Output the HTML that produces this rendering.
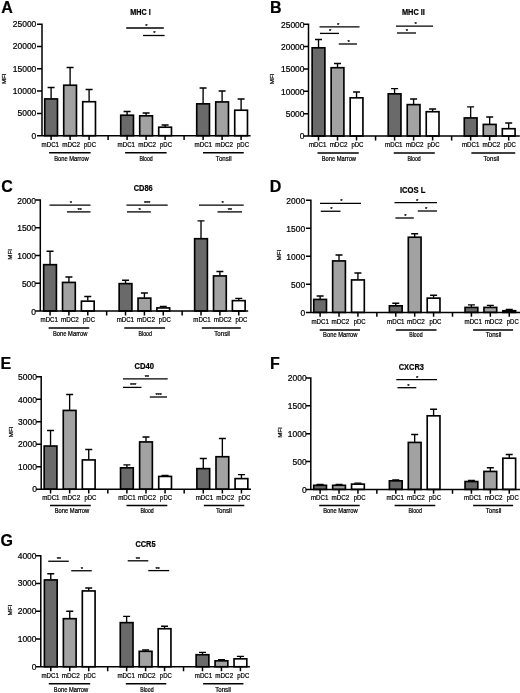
<!DOCTYPE html>
<html><head><meta charset="utf-8"><title>Figure</title>
<style>
html,body{margin:0;padding:0;background:#fff;}
body{width:520px;height:693px;overflow:hidden;}
svg{display:block;} text{stroke:#000;stroke-width:0.22px;} svg{filter:blur(0.35px);font-family:"Liberation Sans",sans-serif;fill:#000;}
</style></head><body>
<svg width="520" height="693" viewBox="0 0 520 693">
<rect x="0" y="0" width="520" height="693" fill="#fff"/>
<text x="1.2" y="13.1" font-size="16" font-weight="700">A</text>
<text x="130.25" y="14.76" font-size="8.5" font-weight="700" textLength="20.5" lengthAdjust="spacingAndGlyphs">MHC I</text>
<text transform="translate(5.7,78.77) rotate(-90)" font-size="6.1" text-anchor="middle" textLength="10.7" lengthAdjust="spacingAndGlyphs">MFI</text>
<path d="M51.1 98.6V87.5M47.6 87.5H54.6" stroke="#000" stroke-width="1.35" fill="none"/>
<rect x="44.73" y="98.92" width="12.75" height="36.77" fill="#6a6a6a" stroke="#000" stroke-width="1.65"/>
<path d="M70.1 84.9V67.5M66.6 67.5H73.6" stroke="#000" stroke-width="1.35" fill="none"/>
<rect x="63.72" y="85.22" width="12.75" height="50.47" fill="#a2a2a2" stroke="#000" stroke-width="1.65"/>
<path d="M89.1 101.4V89.5M85.6 89.5H92.6" stroke="#000" stroke-width="1.35" fill="none"/>
<rect x="82.72" y="101.72" width="12.75" height="33.97" fill="#ffffff" stroke="#000" stroke-width="1.65"/>
<path d="M127.1 114.9V111.5M123.6 111.5H130.6" stroke="#000" stroke-width="1.35" fill="none"/>
<rect x="120.72" y="115.22" width="12.75" height="20.47" fill="#6a6a6a" stroke="#000" stroke-width="1.65"/>
<path d="M146.1 115.5V113M142.6 113H149.6" stroke="#000" stroke-width="1.35" fill="none"/>
<rect x="139.72" y="115.83" width="12.75" height="19.87" fill="#a2a2a2" stroke="#000" stroke-width="1.65"/>
<path d="M165.1 126.9V125M161.6 125H168.6" stroke="#000" stroke-width="1.35" fill="none"/>
<rect x="158.72" y="127.22" width="12.75" height="8.47" fill="#ffffff" stroke="#000" stroke-width="1.65"/>
<path d="M203.1 103.5V88M199.6 88H206.6" stroke="#000" stroke-width="1.35" fill="none"/>
<rect x="196.72" y="103.83" width="12.75" height="31.87" fill="#6a6a6a" stroke="#000" stroke-width="1.65"/>
<path d="M222.1 101.6V91M218.6 91H225.6" stroke="#000" stroke-width="1.35" fill="none"/>
<rect x="215.72" y="101.92" width="12.75" height="33.77" fill="#a2a2a2" stroke="#000" stroke-width="1.65"/>
<path d="M241.1 109.9V99M237.6 99H244.6" stroke="#000" stroke-width="1.35" fill="none"/>
<rect x="234.72" y="110.22" width="12.75" height="25.47" fill="#ffffff" stroke="#000" stroke-width="1.65"/>
<path d="M42 23.5V135.7M41.25 135.7H250.6M37 135.7H42M37 113.41H42M37 91.12H42M37 68.83H42M37 46.54H42M37 24.25H42M51.1 135.7V140.1M70.1 135.7V140.1M89.1 135.7V140.1M108.1 135.7V140.1M127.1 135.7V140.1M146.1 135.7V140.1M165.1 135.7V140.1M184.1 135.7V140.1M203.1 135.7V140.1M222.1 135.7V140.1M241.1 135.7V140.1" stroke="#000" stroke-width="1.5" fill="none"/>
<text x="36.3" y="138.65" font-size="8.45" text-anchor="end">0</text>
<text x="36.3" y="116.36" font-size="8.45" text-anchor="end">5000</text>
<text x="36.3" y="94.07" font-size="8.45" text-anchor="end">10000</text>
<text x="36.3" y="71.78" font-size="8.45" text-anchor="end">15000</text>
<text x="36.3" y="49.49" font-size="8.45" text-anchor="end">20000</text>
<text x="36.3" y="27.2" font-size="8.45" text-anchor="end">25000</text>
<text x="41.6" y="147.1" font-size="6.7" textLength="17.4" lengthAdjust="spacingAndGlyphs">mDC1</text>
<text x="62.2" y="147.1" font-size="6.7" textLength="17.8" lengthAdjust="spacingAndGlyphs">mDC2</text>
<text x="84" y="147.1" font-size="6.7" textLength="12.0" lengthAdjust="spacingAndGlyphs">pDC</text>
<text x="117.6" y="147.1" font-size="6.7" textLength="17.4" lengthAdjust="spacingAndGlyphs">mDC1</text>
<text x="138.2" y="147.1" font-size="6.7" textLength="17.8" lengthAdjust="spacingAndGlyphs">mDC2</text>
<text x="160" y="147.1" font-size="6.7" textLength="12.0" lengthAdjust="spacingAndGlyphs">pDC</text>
<text x="194.6" y="147.1" font-size="6.7" textLength="17.4" lengthAdjust="spacingAndGlyphs">mDC1</text>
<text x="215.2" y="147.1" font-size="6.7" textLength="17.8" lengthAdjust="spacingAndGlyphs">mDC2</text>
<text x="237" y="147.1" font-size="6.7" textLength="12.0" lengthAdjust="spacingAndGlyphs">pDC</text>
<path d="M49.1 152.8H90.6" stroke="#000" stroke-width="1.5"/>
<text x="54.2" y="160.6" font-size="6.6" textLength="34.4" lengthAdjust="spacingAndGlyphs">Bone Marrow</text>
<path d="M125.1 152.8H166.6" stroke="#000" stroke-width="1.5"/>
<text x="139.4" y="160.6" font-size="6.6" textLength="13.4" lengthAdjust="spacingAndGlyphs">Blood</text>
<path d="M203 152.8H243.75" stroke="#000" stroke-width="1.5"/>
<text x="215.85" y="160.6" font-size="6.6" textLength="15.7" lengthAdjust="spacingAndGlyphs">Tonsil</text>
<path d="M126.2 28H163.8" stroke="#000" stroke-width="1.3"/>
<text x="146.3" y="27.9" font-size="6" text-anchor="middle" letter-spacing="-0.3">*</text>
<path d="M143 35.5H164.6" stroke="#000" stroke-width="1.3"/>
<text x="154.3" y="35.4" font-size="6" text-anchor="middle" letter-spacing="-0.3">*</text>
<text x="269.9" y="13.1" font-size="16" font-weight="700">B</text>
<text x="401.9" y="15.26" font-size="8.5" font-weight="700" textLength="23.0" lengthAdjust="spacingAndGlyphs">MHC II</text>
<text transform="translate(274.4,78.92) rotate(-90)" font-size="6.1" text-anchor="middle" textLength="10.7" lengthAdjust="spacingAndGlyphs">MFI</text>
<path d="M318.51 47.5V39.5M315.01 39.5H322.01" stroke="#000" stroke-width="1.35" fill="none"/>
<rect x="312.13" y="47.83" width="12.75" height="88.17" fill="#6a6a6a" stroke="#000" stroke-width="1.65"/>
<path d="M337.53 67.4V63.5M334.03 63.5H341.03" stroke="#000" stroke-width="1.35" fill="none"/>
<rect x="331.15" y="67.72" width="12.75" height="68.28" fill="#a2a2a2" stroke="#000" stroke-width="1.65"/>
<path d="M356.55 97.5V92M353.05 92H360.05" stroke="#000" stroke-width="1.35" fill="none"/>
<rect x="350.17" y="97.83" width="12.75" height="38.17" fill="#ffffff" stroke="#000" stroke-width="1.65"/>
<path d="M394.58 93.5V88.6M391.08 88.6H398.08" stroke="#000" stroke-width="1.35" fill="none"/>
<rect x="388.21" y="93.83" width="12.75" height="42.17" fill="#6a6a6a" stroke="#000" stroke-width="1.65"/>
<path d="M413.6 104.3V99M410.1 99H417.1" stroke="#000" stroke-width="1.35" fill="none"/>
<rect x="407.23" y="104.62" width="12.75" height="31.38" fill="#a2a2a2" stroke="#000" stroke-width="1.65"/>
<path d="M432.62 111.4V109M429.12 109H436.12" stroke="#000" stroke-width="1.35" fill="none"/>
<rect x="426.24" y="111.72" width="12.75" height="24.28" fill="#ffffff" stroke="#000" stroke-width="1.65"/>
<path d="M470.65 117.6V106.8M467.15 106.8H474.15" stroke="#000" stroke-width="1.35" fill="none"/>
<rect x="464.28" y="117.92" width="12.75" height="18.08" fill="#6a6a6a" stroke="#000" stroke-width="1.65"/>
<path d="M489.67 124.1V117M486.17 117H493.17" stroke="#000" stroke-width="1.35" fill="none"/>
<rect x="483.3" y="124.42" width="12.75" height="11.58" fill="#a2a2a2" stroke="#000" stroke-width="1.65"/>
<path d="M508.69 128.4V123M505.19 123H512.19" stroke="#000" stroke-width="1.35" fill="none"/>
<rect x="502.32" y="128.72" width="12.75" height="7.27" fill="#ffffff" stroke="#000" stroke-width="1.65"/>
<path d="M308.5 23.5V136M307.75 136H519.8M303.5 136H308.5M303.5 113.65H308.5M303.5 91.3H308.5M303.5 68.95H308.5M303.5 46.6H308.5M303.5 24.25H308.5M318.51 136V140.4M337.53 136V140.4M356.55 136V140.4M375.56 136V140.4M394.58 136V140.4M413.6 136V140.4M432.62 136V140.4M451.64 136V140.4M470.65 136V140.4M489.67 136V140.4M508.69 136V140.4" stroke="#000" stroke-width="1.5" fill="none"/>
<text x="304.5" y="139.25" font-size="8.45" text-anchor="end">0</text>
<text x="304.5" y="116.9" font-size="8.45" text-anchor="end">5000</text>
<text x="304.5" y="94.55" font-size="8.45" text-anchor="end">10000</text>
<text x="304.5" y="72.2" font-size="8.45" text-anchor="end">15000</text>
<text x="304.5" y="49.85" font-size="8.45" text-anchor="end">20000</text>
<text x="304.5" y="27.5" font-size="8.45" text-anchor="end">25000</text>
<text x="309.01" y="147.4" font-size="6.7" textLength="17.4" lengthAdjust="spacingAndGlyphs">mDC1</text>
<text x="329.63" y="147.4" font-size="6.7" textLength="17.8" lengthAdjust="spacingAndGlyphs">mDC2</text>
<text x="351.45" y="147.4" font-size="6.7" textLength="12.0" lengthAdjust="spacingAndGlyphs">pDC</text>
<text x="385.08" y="147.4" font-size="6.7" textLength="17.4" lengthAdjust="spacingAndGlyphs">mDC1</text>
<text x="405.7" y="147.4" font-size="6.7" textLength="17.8" lengthAdjust="spacingAndGlyphs">mDC2</text>
<text x="427.52" y="147.4" font-size="6.7" textLength="12.0" lengthAdjust="spacingAndGlyphs">pDC</text>
<text x="461.95" y="147.4" font-size="6.7" textLength="17.4" lengthAdjust="spacingAndGlyphs">mDC1</text>
<text x="482.57" y="147.4" font-size="6.7" textLength="17.8" lengthAdjust="spacingAndGlyphs">mDC2</text>
<text x="503.89" y="147.4" font-size="6.7" textLength="12.0" lengthAdjust="spacingAndGlyphs">pDC</text>
<path d="M317.5 153.1H358.75" stroke="#000" stroke-width="1.5"/>
<text x="321.63" y="160.9" font-size="6.6" textLength="34.4" lengthAdjust="spacingAndGlyphs">Bone Marrow</text>
<path d="M393.75 153.1H434.8" stroke="#000" stroke-width="1.5"/>
<text x="407.4" y="160.9" font-size="6.6" textLength="13.4" lengthAdjust="spacingAndGlyphs">Blood</text>
<path d="M471.4 153.1H515.2" stroke="#000" stroke-width="1.5"/>
<text x="483.52" y="160.9" font-size="6.6" textLength="15.7" lengthAdjust="spacingAndGlyphs">Tonsil</text>
<path d="M319.5 26.8H359.5" stroke="#000" stroke-width="1.3"/>
<text x="338" y="26.7" font-size="6" text-anchor="middle" letter-spacing="-0.3">*</text>
<path d="M320 33.4H339" stroke="#000" stroke-width="1.3"/>
<text x="330" y="33.3" font-size="6" text-anchor="middle" letter-spacing="-0.3">*</text>
<path d="M338.75 44H357" stroke="#000" stroke-width="1.3"/>
<text x="348.5" y="43.9" font-size="6" text-anchor="middle" letter-spacing="-0.3">*</text>
<path d="M396 26.2H433" stroke="#000" stroke-width="1.3"/>
<text x="415.4" y="26.1" font-size="6" text-anchor="middle" letter-spacing="-0.3">*</text>
<path d="M397 33H416" stroke="#000" stroke-width="1.3"/>
<text x="406.8" y="32.9" font-size="6" text-anchor="middle" letter-spacing="-0.3">*</text>
<text x="1.2" y="192" font-size="16" font-weight="700">C</text>
<text x="133.7" y="190.76" font-size="8.5" font-weight="700" textLength="19.0" lengthAdjust="spacingAndGlyphs">CD86</text>
<text transform="translate(11.9,254.3) rotate(-90)" font-size="6.1" text-anchor="middle" textLength="10.7" lengthAdjust="spacingAndGlyphs">MFI</text>
<path d="M50.04 264.35V251.25M46.54 251.25H53.54" stroke="#000" stroke-width="1.35" fill="none"/>
<rect x="43.66" y="264.68" width="12.75" height="46.32" fill="#6a6a6a" stroke="#000" stroke-width="1.65"/>
<path d="M68.91 282.1V277M65.41 277H72.41" stroke="#000" stroke-width="1.35" fill="none"/>
<rect x="62.53" y="282.43" width="12.75" height="28.57" fill="#a2a2a2" stroke="#000" stroke-width="1.65"/>
<path d="M87.78 300.85V296.5M84.28 296.5H91.28" stroke="#000" stroke-width="1.35" fill="none"/>
<rect x="81.41" y="301.18" width="12.75" height="9.82" fill="#ffffff" stroke="#000" stroke-width="1.65"/>
<path d="M125.53 283.3V280.2M122.03 280.2H129.03" stroke="#000" stroke-width="1.35" fill="none"/>
<rect x="119.15" y="283.62" width="12.75" height="27.37" fill="#6a6a6a" stroke="#000" stroke-width="1.65"/>
<path d="M144.4 297.8V293M140.9 293H147.9" stroke="#000" stroke-width="1.35" fill="none"/>
<rect x="138.03" y="298.12" width="12.75" height="12.87" fill="#a2a2a2" stroke="#000" stroke-width="1.65"/>
<path d="M163.27 307.6V306.3M159.77 306.3H166.77" stroke="#000" stroke-width="1.35" fill="none"/>
<rect x="156.9" y="307.93" width="12.75" height="3.07" fill="#ffffff" stroke="#000" stroke-width="1.65"/>
<path d="M201.02 238.4V220.8M197.52 220.8H204.52" stroke="#000" stroke-width="1.35" fill="none"/>
<rect x="194.64" y="238.72" width="12.75" height="72.27" fill="#6a6a6a" stroke="#000" stroke-width="1.65"/>
<path d="M219.89 275.6V271.5M216.39 271.5H223.39" stroke="#000" stroke-width="1.35" fill="none"/>
<rect x="213.52" y="275.93" width="12.75" height="35.07" fill="#a2a2a2" stroke="#000" stroke-width="1.65"/>
<path d="M238.76 300.3V298.3M235.26 298.3H242.26" stroke="#000" stroke-width="1.35" fill="none"/>
<rect x="232.39" y="300.62" width="12.75" height="10.37" fill="#ffffff" stroke="#000" stroke-width="1.65"/>
<path d="M40.3 199.25V311M39.55 311H248.2M35.3 311H40.3M35.3 283.25H40.3M35.3 255.5H40.3M35.3 227.75H40.3M35.3 200H40.3M50.04 311V315.4M68.91 311V315.4M87.78 311V315.4M106.65 311V315.4M125.53 311V315.4M144.4 311V315.4M163.27 311V315.4M182.15 311V315.4M201.02 311V315.4M219.89 311V315.4M238.76 311V315.4" stroke="#000" stroke-width="1.5" fill="none"/>
<text x="36" y="314.55" font-size="8.45" text-anchor="end">0</text>
<text x="36" y="286.8" font-size="8.45" text-anchor="end">500</text>
<text x="36" y="259.05" font-size="8.45" text-anchor="end">1000</text>
<text x="36" y="231.3" font-size="8.45" text-anchor="end">1500</text>
<text x="36" y="203.55" font-size="8.45" text-anchor="end">2000</text>
<text x="40.54" y="322.4" font-size="6.7" textLength="17.4" lengthAdjust="spacingAndGlyphs">mDC1</text>
<text x="61.01" y="322.4" font-size="6.7" textLength="17.8" lengthAdjust="spacingAndGlyphs">mDC2</text>
<text x="82.98" y="322.4" font-size="6.7" textLength="12.0" lengthAdjust="spacingAndGlyphs">pDC</text>
<text x="116.63" y="322.4" font-size="6.7" textLength="17.4" lengthAdjust="spacingAndGlyphs">mDC1</text>
<text x="137.1" y="322.4" font-size="6.7" textLength="17.8" lengthAdjust="spacingAndGlyphs">mDC2</text>
<text x="158.87" y="322.4" font-size="6.7" textLength="12.0" lengthAdjust="spacingAndGlyphs">pDC</text>
<text x="193.32" y="322.4" font-size="6.7" textLength="17.4" lengthAdjust="spacingAndGlyphs">mDC1</text>
<text x="213.79" y="322.4" font-size="6.7" textLength="17.8" lengthAdjust="spacingAndGlyphs">mDC2</text>
<text x="235.46" y="322.4" font-size="6.7" textLength="12.0" lengthAdjust="spacingAndGlyphs">pDC</text>
<path d="M48.6 328.1H89.25" stroke="#000" stroke-width="1.5"/>
<text x="53.01" y="335.9" font-size="6.6" textLength="34.4" lengthAdjust="spacingAndGlyphs">Bone Marrow</text>
<path d="M124.25 328.1H165.1" stroke="#000" stroke-width="1.5"/>
<text x="138.55" y="335.9" font-size="6.6" textLength="13.4" lengthAdjust="spacingAndGlyphs">Blood</text>
<path d="M201.8 328.1H240.8" stroke="#000" stroke-width="1.5"/>
<text x="214.24" y="335.9" font-size="6.6" textLength="15.7" lengthAdjust="spacingAndGlyphs">Tonsil</text>
<path d="M49.5 205.1H90.5" stroke="#000" stroke-width="1.3"/>
<text x="70.75" y="205" font-size="6" text-anchor="middle" letter-spacing="-0.3">*</text>
<path d="M67 211.9H90.5" stroke="#000" stroke-width="1.3"/>
<text x="79.5" y="211.8" font-size="6" text-anchor="middle" letter-spacing="-0.3">**</text>
<path d="M126.5 205.1H167.7" stroke="#000" stroke-width="1.3"/>
<text x="147" y="205" font-size="6" text-anchor="middle" letter-spacing="-0.3">***</text>
<path d="M127 211.9H150.8" stroke="#000" stroke-width="1.3"/>
<text x="139.4" y="211.8" font-size="6" text-anchor="middle" letter-spacing="-0.3">*</text>
<path d="M199 205.1H243.7" stroke="#000" stroke-width="1.3"/>
<text x="222.5" y="205" font-size="6" text-anchor="middle" letter-spacing="-0.3">*</text>
<path d="M217.5 211.9H242" stroke="#000" stroke-width="1.3"/>
<text x="229.8" y="211.8" font-size="6" text-anchor="middle" letter-spacing="-0.3">**</text>
<text x="269.7" y="191.75" font-size="16" font-weight="700">D</text>
<text x="400" y="192.56" font-size="8.5" font-weight="700" textLength="25.4" lengthAdjust="spacingAndGlyphs">ICOS L</text>
<text transform="translate(281.4,255.12) rotate(-90)" font-size="6.1" text-anchor="middle" textLength="10.7" lengthAdjust="spacingAndGlyphs">MFI</text>
<path d="M320.11 299.1V296M316.61 296H323.61" stroke="#000" stroke-width="1.35" fill="none"/>
<rect x="313.73" y="299.43" width="12.75" height="12.97" fill="#6a6a6a" stroke="#000" stroke-width="1.65"/>
<path d="M339.02 260.6V255M335.52 255H342.52" stroke="#000" stroke-width="1.35" fill="none"/>
<rect x="332.65" y="260.93" width="12.75" height="51.47" fill="#a2a2a2" stroke="#000" stroke-width="1.65"/>
<path d="M357.93 279.6V273M354.43 273H361.43" stroke="#000" stroke-width="1.35" fill="none"/>
<rect x="351.56" y="279.93" width="12.75" height="32.47" fill="#ffffff" stroke="#000" stroke-width="1.65"/>
<path d="M395.76 305.5V303.2M392.26 303.2H399.26" stroke="#000" stroke-width="1.35" fill="none"/>
<rect x="389.39" y="305.82" width="12.75" height="6.57" fill="#6a6a6a" stroke="#000" stroke-width="1.65"/>
<path d="M414.68 236.9V233.7M411.18 233.7H418.18" stroke="#000" stroke-width="1.35" fill="none"/>
<rect x="408.3" y="237.22" width="12.75" height="75.17" fill="#a2a2a2" stroke="#000" stroke-width="1.65"/>
<path d="M433.59 297.8V295.2M430.09 295.2H437.09" stroke="#000" stroke-width="1.35" fill="none"/>
<rect x="427.21" y="298.12" width="12.75" height="14.27" fill="#ffffff" stroke="#000" stroke-width="1.65"/>
<path d="M471.42 307.1V304.8M467.92 304.8H474.92" stroke="#000" stroke-width="1.35" fill="none"/>
<rect x="465.04" y="307.43" width="12.75" height="4.97" fill="#6a6a6a" stroke="#000" stroke-width="1.65"/>
<path d="M490.33 307.1V305.4M486.83 305.4H493.83" stroke="#000" stroke-width="1.35" fill="none"/>
<rect x="483.95" y="307.43" width="12.75" height="4.97" fill="#a2a2a2" stroke="#000" stroke-width="1.65"/>
<path d="M509.24 310.4V309.4M505.74 309.4H512.74" stroke="#000" stroke-width="1.35" fill="none"/>
<rect x="502.87" y="310.73" width="12.75" height="1.67" fill="#ffffff" stroke="#000" stroke-width="1.65"/>
<path d="M310.9 199.5V312.4M310.15 312.4H520M305.9 312.4H310.9M305.9 284.36H310.9M305.9 256.32H310.9M305.9 228.29H310.9M305.9 200.25H310.9M320.11 312.4V316.8M339.02 312.4V316.8M357.93 312.4V316.8M376.85 312.4V316.8M395.76 312.4V316.8M414.68 312.4V316.8M433.59 312.4V316.8M452.5 312.4V316.8M471.42 312.4V316.8M490.33 312.4V316.8M509.24 312.4V316.8" stroke="#000" stroke-width="1.5" fill="none"/>
<text x="305.1" y="315.65" font-size="8.45" text-anchor="end">0</text>
<text x="305.1" y="287.61" font-size="8.45" text-anchor="end">500</text>
<text x="305.1" y="259.57" font-size="8.45" text-anchor="end">1000</text>
<text x="305.1" y="231.54" font-size="8.45" text-anchor="end">1500</text>
<text x="305.1" y="203.5" font-size="8.45" text-anchor="end">2000</text>
<text x="311.41" y="324.35" font-size="6.7" textLength="17.4" lengthAdjust="spacingAndGlyphs">mDC1</text>
<text x="331.52" y="324.35" font-size="6.7" textLength="17.8" lengthAdjust="spacingAndGlyphs">mDC2</text>
<text x="353.63" y="324.35" font-size="6.7" textLength="12.0" lengthAdjust="spacingAndGlyphs">pDC</text>
<text x="387.11" y="324.35" font-size="6.7" textLength="17.4" lengthAdjust="spacingAndGlyphs">mDC1</text>
<text x="406.93" y="324.35" font-size="6.7" textLength="17.8" lengthAdjust="spacingAndGlyphs">mDC2</text>
<text x="429.39" y="324.35" font-size="6.7" textLength="12.0" lengthAdjust="spacingAndGlyphs">pDC</text>
<text x="464.52" y="324.35" font-size="6.7" textLength="17.4" lengthAdjust="spacingAndGlyphs">mDC1</text>
<text x="484.63" y="324.35" font-size="6.7" textLength="17.8" lengthAdjust="spacingAndGlyphs">mDC2</text>
<text x="506.74" y="324.35" font-size="6.7" textLength="12.0" lengthAdjust="spacingAndGlyphs">pDC</text>
<path d="M319.7 330.1H360" stroke="#000" stroke-width="1.5"/>
<text x="323.12" y="337.1" font-size="6.6" textLength="34.4" lengthAdjust="spacingAndGlyphs">Bone Marrow</text>
<path d="M395.8 330.1H436.5" stroke="#000" stroke-width="1.5"/>
<text x="409.18" y="337.1" font-size="6.6" textLength="13.4" lengthAdjust="spacingAndGlyphs">Blood</text>
<path d="M473.1 330.1H513.1" stroke="#000" stroke-width="1.5"/>
<text x="485.68" y="337.1" font-size="6.6" textLength="15.7" lengthAdjust="spacingAndGlyphs">Tonsil</text>
<path d="M320 203.4H361" stroke="#000" stroke-width="1.3"/>
<text x="341.25" y="203.3" font-size="6" text-anchor="middle" letter-spacing="-0.3">*</text>
<path d="M320.75 211.25H340.5" stroke="#000" stroke-width="1.3"/>
<text x="331.25" y="211.15" font-size="6" text-anchor="middle" letter-spacing="-0.3">*</text>
<path d="M394.5 202.6H437" stroke="#000" stroke-width="1.3"/>
<text x="417" y="202.5" font-size="6" text-anchor="middle" letter-spacing="-0.3">*</text>
<path d="M417.8 211H437" stroke="#000" stroke-width="1.3"/>
<text x="426" y="210.9" font-size="6" text-anchor="middle" letter-spacing="-0.3">*</text>
<path d="M395.4 218H413.8" stroke="#000" stroke-width="1.3"/>
<text x="405.2" y="217.9" font-size="6" text-anchor="middle" letter-spacing="-0.3">*</text>
<text x="0.4" y="368.7" font-size="16" font-weight="700">E</text>
<text x="134.4" y="369" font-size="8.9" font-weight="700" textLength="19.5" lengthAdjust="spacingAndGlyphs">CD40</text>
<text transform="translate(13,431.8) rotate(-90)" font-size="6.1" text-anchor="middle" textLength="10.7" lengthAdjust="spacingAndGlyphs">MFI</text>
<path d="M50.55 445.7V430.5M47.05 430.5H54.05" stroke="#000" stroke-width="1.35" fill="none"/>
<rect x="44.17" y="446.03" width="12.75" height="43.17" fill="#6a6a6a" stroke="#000" stroke-width="1.65"/>
<path d="M69.64 410.1V394.5M66.14 394.5H73.14" stroke="#000" stroke-width="1.35" fill="none"/>
<rect x="63.26" y="410.43" width="12.75" height="78.77" fill="#a2a2a2" stroke="#000" stroke-width="1.65"/>
<path d="M88.73 459.6V449.5M85.23 449.5H92.23" stroke="#000" stroke-width="1.35" fill="none"/>
<rect x="82.35" y="459.93" width="12.75" height="29.27" fill="#ffffff" stroke="#000" stroke-width="1.65"/>
<path d="M126.91 467.5V464.8M123.41 464.8H130.41" stroke="#000" stroke-width="1.35" fill="none"/>
<rect x="120.53" y="467.82" width="12.75" height="21.37" fill="#6a6a6a" stroke="#000" stroke-width="1.65"/>
<path d="M146 441.6V437M142.5 437H149.5" stroke="#000" stroke-width="1.35" fill="none"/>
<rect x="139.62" y="441.93" width="12.75" height="47.27" fill="#a2a2a2" stroke="#000" stroke-width="1.65"/>
<path d="M165.09 476.1V475.3M161.59 475.3H168.59" stroke="#000" stroke-width="1.35" fill="none"/>
<rect x="158.72" y="476.43" width="12.75" height="12.77" fill="#ffffff" stroke="#000" stroke-width="1.65"/>
<path d="M203.27 468.3V458.5M199.77 458.5H206.77" stroke="#000" stroke-width="1.35" fill="none"/>
<rect x="196.9" y="468.62" width="12.75" height="20.57" fill="#6a6a6a" stroke="#000" stroke-width="1.65"/>
<path d="M222.36 456.4V438.5M218.86 438.5H225.86" stroke="#000" stroke-width="1.35" fill="none"/>
<rect x="215.99" y="456.73" width="12.75" height="32.47" fill="#a2a2a2" stroke="#000" stroke-width="1.65"/>
<path d="M241.45 478.3V474.6M237.95 474.6H244.95" stroke="#000" stroke-width="1.35" fill="none"/>
<rect x="235.08" y="478.62" width="12.75" height="10.57" fill="#ffffff" stroke="#000" stroke-width="1.65"/>
<path d="M41.2 376.05V489.2M40.45 489.2H251M36.2 489.2H41.2M36.2 466.72H41.2M36.2 444.24H41.2M36.2 421.76H41.2M36.2 399.28H41.2M36.2 376.8H41.2M50.55 489.2V493.6M69.64 489.2V493.6M88.73 489.2V493.6M107.82 489.2V493.6M126.91 489.2V493.6M146 489.2V493.6M165.09 489.2V493.6M184.18 489.2V493.6M203.27 489.2V493.6M222.36 489.2V493.6M241.45 489.2V493.6" stroke="#000" stroke-width="1.5" fill="none"/>
<text x="36.9" y="492.45" font-size="8.45" text-anchor="end">0</text>
<text x="36.9" y="469.97" font-size="8.45" text-anchor="end">1000</text>
<text x="36.9" y="447.49" font-size="8.45" text-anchor="end">2000</text>
<text x="36.9" y="425.01" font-size="8.45" text-anchor="end">3000</text>
<text x="36.9" y="402.53" font-size="8.45" text-anchor="end">4000</text>
<text x="36.9" y="380.05" font-size="8.45" text-anchor="end">5000</text>
<text x="42.15" y="500.15" font-size="6.7" textLength="17.4" lengthAdjust="spacingAndGlyphs">mDC1</text>
<text x="62.34" y="500.15" font-size="6.7" textLength="17.8" lengthAdjust="spacingAndGlyphs">mDC2</text>
<text x="84.43" y="500.15" font-size="6.7" textLength="12.0" lengthAdjust="spacingAndGlyphs">pDC</text>
<text x="118.21" y="500.15" font-size="6.7" textLength="17.4" lengthAdjust="spacingAndGlyphs">mDC1</text>
<text x="138.1" y="500.15" font-size="6.7" textLength="17.8" lengthAdjust="spacingAndGlyphs">mDC2</text>
<text x="160.09" y="500.15" font-size="6.7" textLength="12.0" lengthAdjust="spacingAndGlyphs">pDC</text>
<text x="195.67" y="500.15" font-size="6.7" textLength="17.4" lengthAdjust="spacingAndGlyphs">mDC1</text>
<text x="216.36" y="500.15" font-size="6.7" textLength="17.8" lengthAdjust="spacingAndGlyphs">mDC2</text>
<text x="238.45" y="500.15" font-size="6.7" textLength="12.0" lengthAdjust="spacingAndGlyphs">pDC</text>
<path d="M50 505.5H90.8" stroke="#000" stroke-width="1.5"/>
<text x="54.74" y="513.3" font-size="6.6" textLength="34.4" lengthAdjust="spacingAndGlyphs">Bone Marrow</text>
<path d="M126.5 505.5H167.3" stroke="#000" stroke-width="1.5"/>
<text x="140.4" y="513.3" font-size="6.6" textLength="13.4" lengthAdjust="spacingAndGlyphs">Blood</text>
<path d="M203.85 505.5H244.3" stroke="#000" stroke-width="1.5"/>
<text x="216.06" y="513.3" font-size="6.6" textLength="15.7" lengthAdjust="spacingAndGlyphs">Tonsil</text>
<path d="M123 378.8H167.7" stroke="#000" stroke-width="1.3"/>
<text x="146.8" y="378.7" font-size="6" text-anchor="middle" letter-spacing="-0.3">**</text>
<path d="M123 387.4H141.5" stroke="#000" stroke-width="1.3"/>
<text x="133" y="387.3" font-size="6" text-anchor="middle" letter-spacing="-0.3">***</text>
<path d="M149.8 397H167" stroke="#000" stroke-width="1.3"/>
<text x="158.5" y="396.9" font-size="6" text-anchor="middle" letter-spacing="-0.3">***</text>
<text x="270" y="368.8" font-size="16" font-weight="700">F</text>
<text x="398.65" y="370.26" font-size="8.5" font-weight="700" textLength="25.3" lengthAdjust="spacingAndGlyphs">CXCR3</text>
<text transform="translate(282.3,432.5) rotate(-90)" font-size="6.1" text-anchor="middle" textLength="10.7" lengthAdjust="spacingAndGlyphs">MFI</text>
<path d="M320.11 485V484.3M316.61 484.3H323.61" stroke="#000" stroke-width="1.35" fill="none"/>
<rect x="313.73" y="485.32" width="12.75" height="4.07" fill="#6a6a6a" stroke="#000" stroke-width="1.65"/>
<path d="M339.02 485V484.3M335.52 484.3H342.52" stroke="#000" stroke-width="1.35" fill="none"/>
<rect x="332.65" y="485.32" width="12.75" height="4.07" fill="#a2a2a2" stroke="#000" stroke-width="1.65"/>
<path d="M357.93 483.8V483.1M354.43 483.1H361.43" stroke="#000" stroke-width="1.35" fill="none"/>
<rect x="351.56" y="484.12" width="12.75" height="5.27" fill="#ffffff" stroke="#000" stroke-width="1.65"/>
<path d="M395.76 480.5V479.9M392.26 479.9H399.26" stroke="#000" stroke-width="1.35" fill="none"/>
<rect x="389.39" y="480.82" width="12.75" height="8.57" fill="#6a6a6a" stroke="#000" stroke-width="1.65"/>
<path d="M414.68 442.1V434.5M411.18 434.5H418.18" stroke="#000" stroke-width="1.35" fill="none"/>
<rect x="408.3" y="442.43" width="12.75" height="46.97" fill="#a2a2a2" stroke="#000" stroke-width="1.65"/>
<path d="M433.59 415.5V409.2M430.09 409.2H437.09" stroke="#000" stroke-width="1.35" fill="none"/>
<rect x="427.21" y="415.82" width="12.75" height="73.57" fill="#ffffff" stroke="#000" stroke-width="1.65"/>
<path d="M471.42 481.2V480.5M467.92 480.5H474.92" stroke="#000" stroke-width="1.35" fill="none"/>
<rect x="465.04" y="481.53" width="12.75" height="7.87" fill="#6a6a6a" stroke="#000" stroke-width="1.65"/>
<path d="M490.33 471.1V467.7M486.83 467.7H493.83" stroke="#000" stroke-width="1.35" fill="none"/>
<rect x="483.95" y="471.43" width="12.75" height="17.97" fill="#a2a2a2" stroke="#000" stroke-width="1.65"/>
<path d="M509.24 457.9V454.5M505.74 454.5H512.74" stroke="#000" stroke-width="1.35" fill="none"/>
<rect x="502.87" y="458.23" width="12.75" height="31.17" fill="#ffffff" stroke="#000" stroke-width="1.65"/>
<path d="M310.8 377.25V489.4M310.05 489.4H520M305.8 489.4H310.8M305.8 461.55H310.8M305.8 433.7H310.8M305.8 405.85H310.8M305.8 378H310.8M320.11 489.4V493.8M339.02 489.4V493.8M357.93 489.4V493.8M376.85 489.4V493.8M395.76 489.4V493.8M414.68 489.4V493.8M433.59 489.4V493.8M452.5 489.4V493.8M471.42 489.4V493.8M490.33 489.4V493.8M509.24 489.4V493.8" stroke="#000" stroke-width="1.5" fill="none"/>
<text x="306.6" y="492.65" font-size="8.45" text-anchor="end">0</text>
<text x="306.6" y="464.8" font-size="8.45" text-anchor="end">500</text>
<text x="306.6" y="436.95" font-size="8.45" text-anchor="end">1000</text>
<text x="306.6" y="409.1" font-size="8.45" text-anchor="end">1500</text>
<text x="306.6" y="381.25" font-size="8.45" text-anchor="end">2000</text>
<text x="311.01" y="500.15" font-size="6.7" textLength="17.4" lengthAdjust="spacingAndGlyphs">mDC1</text>
<text x="331.52" y="500.15" font-size="6.7" textLength="17.8" lengthAdjust="spacingAndGlyphs">mDC2</text>
<text x="353.63" y="500.15" font-size="6.7" textLength="12.0" lengthAdjust="spacingAndGlyphs">pDC</text>
<text x="386.51" y="500.15" font-size="6.7" textLength="17.4" lengthAdjust="spacingAndGlyphs">mDC1</text>
<text x="406.93" y="500.15" font-size="6.7" textLength="17.8" lengthAdjust="spacingAndGlyphs">mDC2</text>
<text x="428.99" y="500.15" font-size="6.7" textLength="12.0" lengthAdjust="spacingAndGlyphs">pDC</text>
<text x="464.12" y="500.15" font-size="6.7" textLength="17.4" lengthAdjust="spacingAndGlyphs">mDC1</text>
<text x="484.63" y="500.15" font-size="6.7" textLength="17.8" lengthAdjust="spacingAndGlyphs">mDC2</text>
<text x="506.74" y="500.15" font-size="6.7" textLength="12.0" lengthAdjust="spacingAndGlyphs">pDC</text>
<path d="M319.2 505.5H359.7" stroke="#000" stroke-width="1.5"/>
<text x="323.22" y="513.3" font-size="6.6" textLength="34.4" lengthAdjust="spacingAndGlyphs">Bone Marrow</text>
<path d="M394.6 505.5H435.3" stroke="#000" stroke-width="1.5"/>
<text x="408.48" y="513.3" font-size="6.6" textLength="13.4" lengthAdjust="spacingAndGlyphs">Blood</text>
<path d="M473.1 505.5H513.1" stroke="#000" stroke-width="1.5"/>
<text x="485.68" y="513.3" font-size="6.6" textLength="15.7" lengthAdjust="spacingAndGlyphs">Tonsil</text>
<path d="M396.3 379.7H437" stroke="#000" stroke-width="1.3"/>
<text x="417" y="379.6" font-size="6" text-anchor="middle" letter-spacing="-0.3">*</text>
<path d="M397.5 387.7H416.3" stroke="#000" stroke-width="1.3"/>
<text x="408.3" y="387.6" font-size="6" text-anchor="middle" letter-spacing="-0.3">*</text>
<text x="0.5" y="545.9" font-size="16" font-weight="700">G</text>
<text x="135.4" y="546.6" font-size="8.9" font-weight="700" textLength="20.2" lengthAdjust="spacingAndGlyphs">CCR5</text>
<text transform="translate(11.5,610.05) rotate(-90)" font-size="6.1" text-anchor="middle" textLength="10.7" lengthAdjust="spacingAndGlyphs">MFI</text>
<path d="M50.78 579.6V573.75M47.28 573.75H54.28" stroke="#000" stroke-width="1.35" fill="none"/>
<rect x="44.41" y="579.93" width="12.75" height="86.82" fill="#6a6a6a" stroke="#000" stroke-width="1.65"/>
<path d="M69.75 618.35V611.25M66.25 611.25H73.25" stroke="#000" stroke-width="1.35" fill="none"/>
<rect x="63.37" y="618.68" width="12.75" height="48.07" fill="#a2a2a2" stroke="#000" stroke-width="1.65"/>
<path d="M88.71 590.6V588M85.21 588H92.21" stroke="#000" stroke-width="1.35" fill="none"/>
<rect x="82.33" y="590.93" width="12.75" height="75.82" fill="#ffffff" stroke="#000" stroke-width="1.65"/>
<path d="M126.64 622.3V616.3M123.14 616.3H130.14" stroke="#000" stroke-width="1.35" fill="none"/>
<rect x="120.26" y="622.63" width="12.75" height="44.12" fill="#6a6a6a" stroke="#000" stroke-width="1.65"/>
<path d="M145.6 651V650M142.1 650H149.1" stroke="#000" stroke-width="1.35" fill="none"/>
<rect x="139.23" y="651.33" width="12.75" height="15.43" fill="#a2a2a2" stroke="#000" stroke-width="1.65"/>
<path d="M164.56 628.4V626.2M161.06 626.2H168.06" stroke="#000" stroke-width="1.35" fill="none"/>
<rect x="158.19" y="628.73" width="12.75" height="38.03" fill="#ffffff" stroke="#000" stroke-width="1.65"/>
<path d="M202.49 654.4V652.3M198.99 652.3H205.99" stroke="#000" stroke-width="1.35" fill="none"/>
<rect x="196.12" y="654.73" width="12.75" height="12.03" fill="#6a6a6a" stroke="#000" stroke-width="1.65"/>
<path d="M221.45 660.5V659.6M217.95 659.6H224.95" stroke="#000" stroke-width="1.35" fill="none"/>
<rect x="215.08" y="660.83" width="12.75" height="5.92" fill="#a2a2a2" stroke="#000" stroke-width="1.65"/>
<path d="M240.42 658.5V656.3M236.92 656.3H243.92" stroke="#000" stroke-width="1.35" fill="none"/>
<rect x="234.04" y="658.83" width="12.75" height="7.92" fill="#ffffff" stroke="#000" stroke-width="1.65"/>
<path d="M40.8 555V666.75M40.05 666.75H249.9M35.8 666.75H40.8M35.8 639H40.8M35.8 611.25H40.8M35.8 583.5H40.8M35.8 555.75H40.8M50.78 666.75V671.15M69.75 666.75V671.15M88.71 666.75V671.15M107.67 666.75V671.15M126.64 666.75V671.15M145.6 666.75V671.15M164.56 666.75V671.15M183.53 666.75V671.15M202.49 666.75V671.15M221.45 666.75V671.15M240.42 666.75V671.15" stroke="#000" stroke-width="1.5" fill="none"/>
<text x="36.5" y="669.7" font-size="8.45" text-anchor="end">0</text>
<text x="36.5" y="641.95" font-size="8.45" text-anchor="end">1000</text>
<text x="36.5" y="614.2" font-size="8.45" text-anchor="end">2000</text>
<text x="36.5" y="586.45" font-size="8.45" text-anchor="end">3000</text>
<text x="36.5" y="558.7" font-size="8.45" text-anchor="end">4000</text>
<text x="41.48" y="678.15" font-size="6.7" textLength="17.4" lengthAdjust="spacingAndGlyphs">mDC1</text>
<text x="61.85" y="678.15" font-size="6.7" textLength="17.8" lengthAdjust="spacingAndGlyphs">mDC2</text>
<text x="83.81" y="678.15" font-size="6.7" textLength="12.0" lengthAdjust="spacingAndGlyphs">pDC</text>
<text x="117.44" y="678.15" font-size="6.7" textLength="17.4" lengthAdjust="spacingAndGlyphs">mDC1</text>
<text x="137.7" y="678.15" font-size="6.7" textLength="17.8" lengthAdjust="spacingAndGlyphs">mDC2</text>
<text x="159.86" y="678.15" font-size="6.7" textLength="12.0" lengthAdjust="spacingAndGlyphs">pDC</text>
<text x="194.79" y="678.15" font-size="6.7" textLength="17.4" lengthAdjust="spacingAndGlyphs">mDC1</text>
<text x="215.35" y="678.15" font-size="6.7" textLength="17.8" lengthAdjust="spacingAndGlyphs">mDC2</text>
<text x="237.22" y="678.15" font-size="6.7" textLength="12.0" lengthAdjust="spacingAndGlyphs">pDC</text>
<path d="M48.78 683.85H90.21" stroke="#000" stroke-width="1.5"/>
<text x="53.85" y="691.65" font-size="6.6" textLength="34.4" lengthAdjust="spacingAndGlyphs">Bone Marrow</text>
<path d="M125.8 683.85H166.3" stroke="#000" stroke-width="1.5"/>
<text x="140.2" y="691.65" font-size="6.6" textLength="13.4" lengthAdjust="spacingAndGlyphs">Blood</text>
<path d="M203.1 683.85H243.4" stroke="#000" stroke-width="1.5"/>
<text x="215.2" y="691.65" font-size="6.6" textLength="15.7" lengthAdjust="spacingAndGlyphs">Tonsil</text>
<path d="M48.25 561.25H68.75" stroke="#000" stroke-width="1.3"/>
<text x="58.75" y="561.15" font-size="6" text-anchor="middle" letter-spacing="-0.3">**</text>
<path d="M71.25 570.75H91.75" stroke="#000" stroke-width="1.3"/>
<text x="81.75" y="570.65" font-size="6" text-anchor="middle" letter-spacing="-0.3">*</text>
<path d="M127.7 560.8H148.3" stroke="#000" stroke-width="1.3"/>
<text x="137.8" y="560.7" font-size="6" text-anchor="middle" letter-spacing="-0.3">**</text>
<path d="M148.3 570.6H169.2" stroke="#000" stroke-width="1.3"/>
<text x="157.5" y="570.5" font-size="6" text-anchor="middle" letter-spacing="-0.3">**</text>
</svg>
</body></html>
